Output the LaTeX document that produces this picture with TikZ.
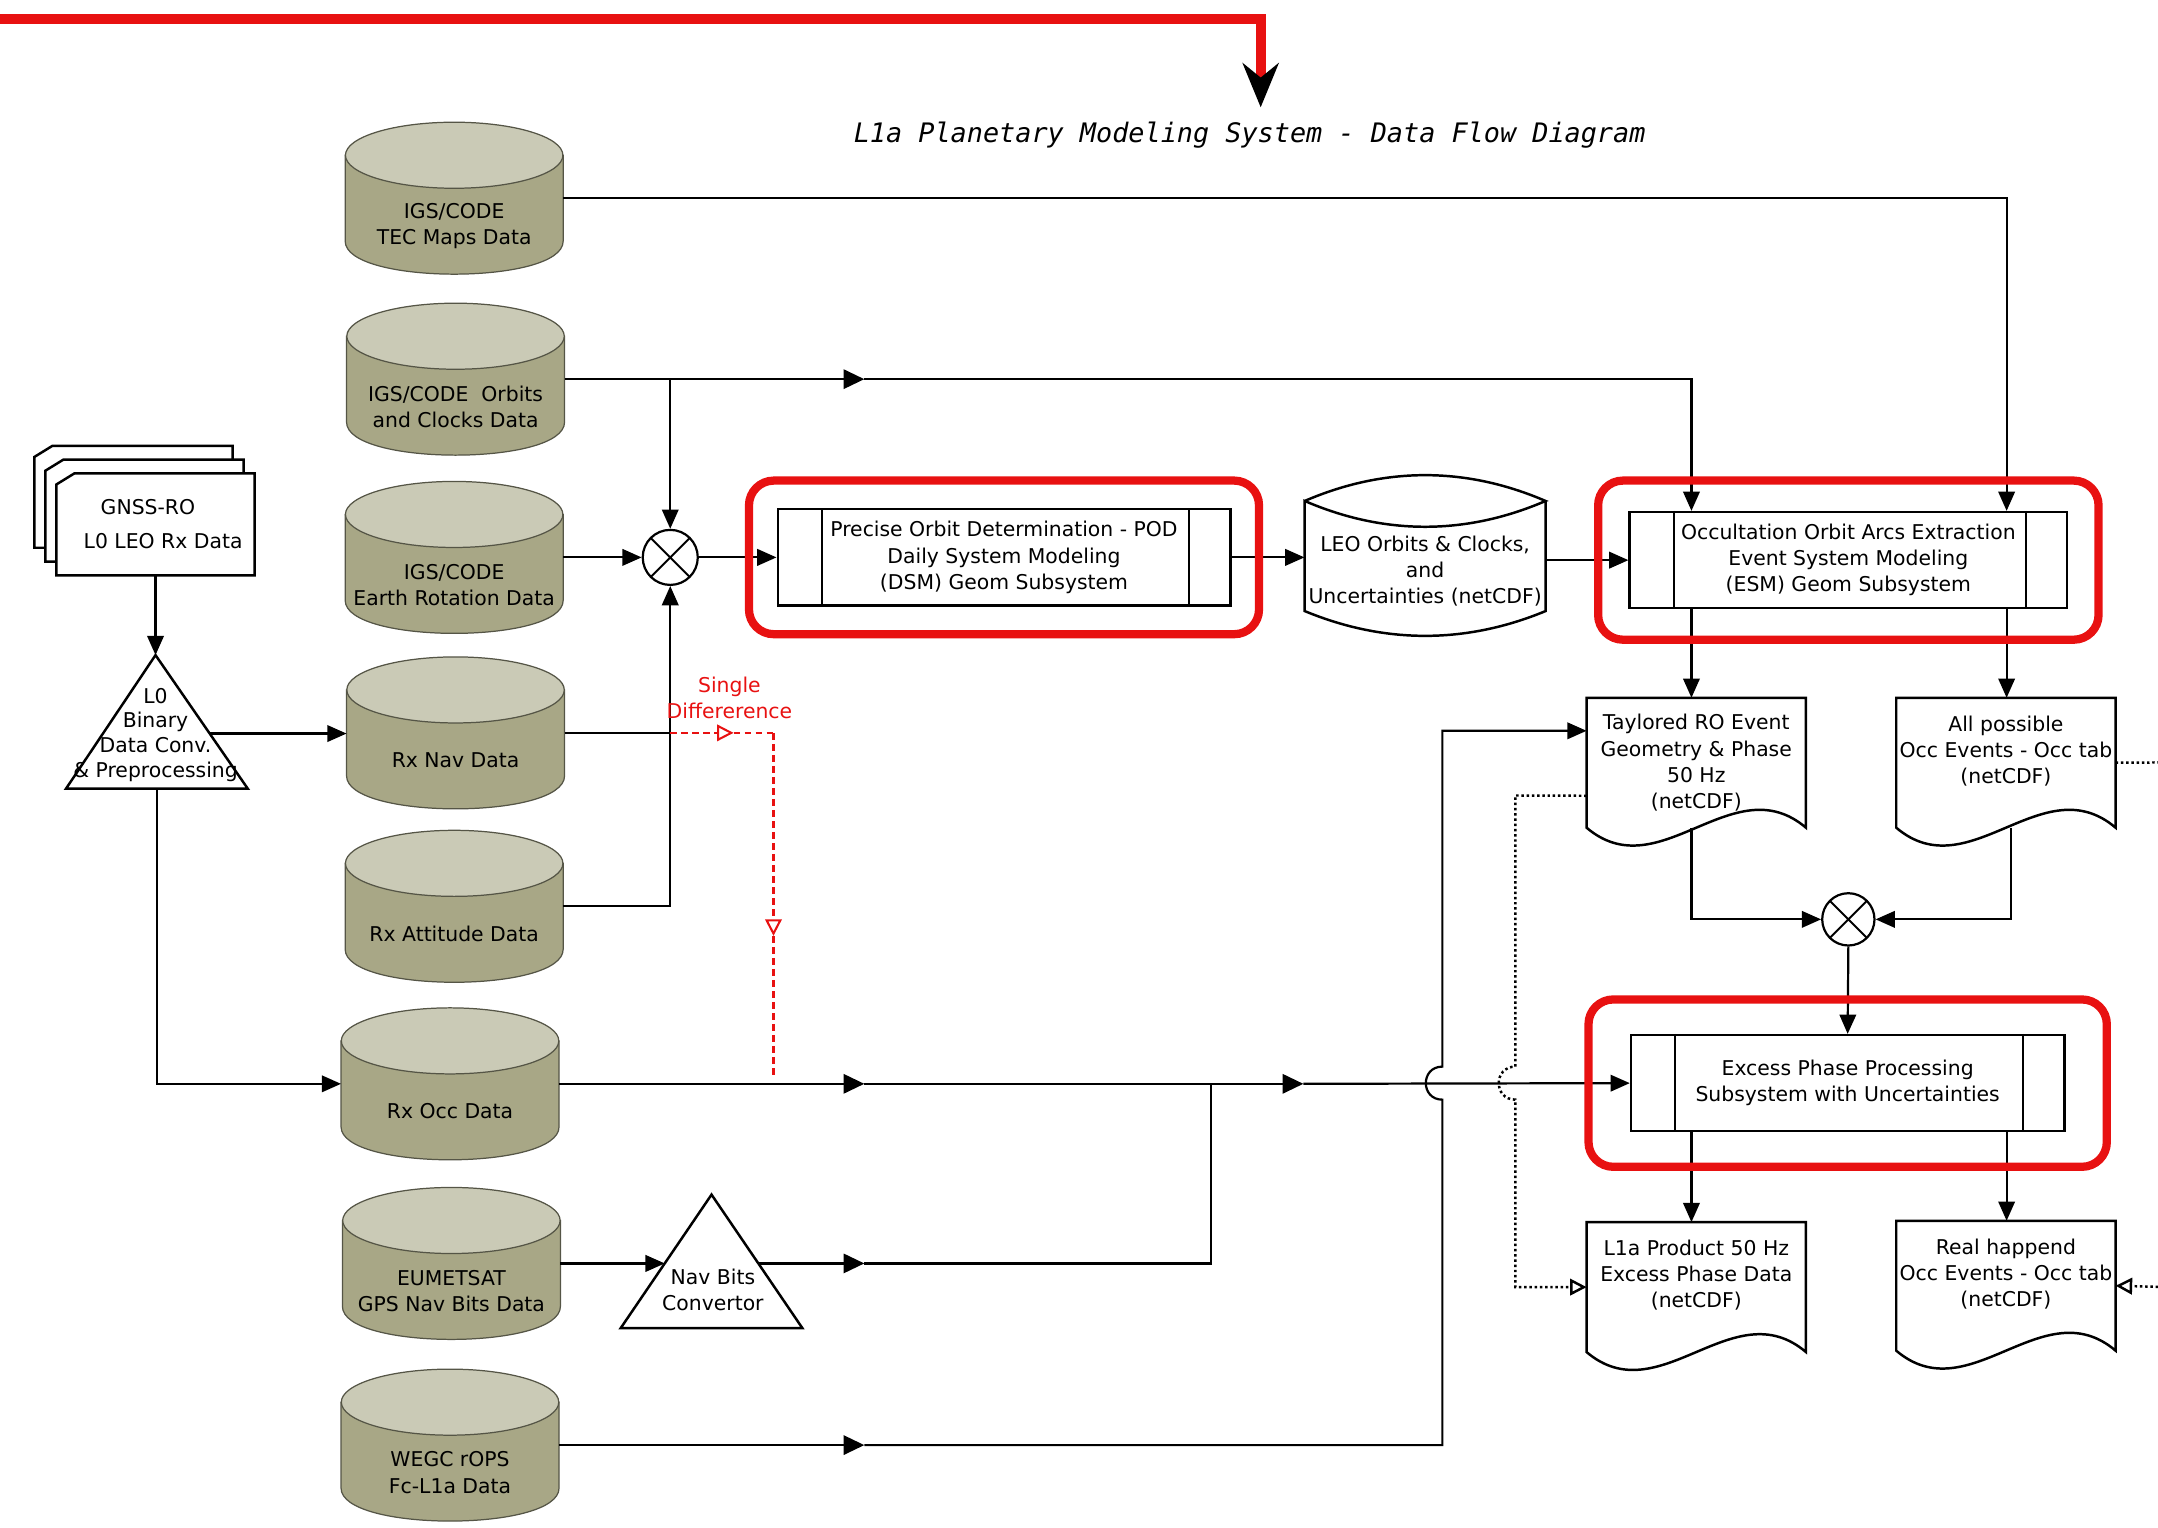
\documentclass[tikz,border=0pt]{standalone}
\usepackage{fontspec}
\setmainfont{DejaVu Sans}
\newfontfamily\titlefont{DejaVu Sans Mono}
\usetikzlibrary{arrows.meta,fit,calc}

\definecolor{framered}{RGB}{232,17,17}
\definecolor{dbtop}{RGB}{202,202,182}
\definecolor{dbbody}{RGB}{168,167,134}
\definecolor{dbline}{RGB}{85,85,70}

\tikzset{
  db/.style={minimum width=158pt, minimum height=110pt, inner sep=0pt},
  dbshape/.style={draw=dbline, line width=0.9pt},
  dbtext/.style={align=center, inner sep=0pt},
  proc/.style={draw, line width=1.6pt, fill=white, minimum width=#1, minimum height=70pt,
    align=center, inner sep=0pt},
  redframe/.style={draw=framered, line width=6pt, rounded corners=18pt},
  doc/.style={anchor=north, minimum width=159pt, minimum height=94pt, align=center, inner sep=0pt},
  docline/.style={line width=1.8pt},
  conn/.style={line width=1.6pt},
  flow/.style={line width=1.6pt, -{Triangle[length=14pt,width=12pt]}},
  midmark/.style={line width=1.6pt, -{Triangle[length=15pt,width=14pt]}},
  dotflow/.style={line width=1.8pt, dotted},
  hollow/.style={-{Triangle[open,length=12pt,width=12pt]}},
  sdline/.style={framered, line width=1.5pt, dash pattern=on 5pt off 3pt},
  sumcircle/.style={circle, draw, line width=1.6pt, minimum size=#1, inner sep=0pt,
    path picture={\draw[line width=1.4pt]
      (path picture bounding box.north west) -- (path picture bounding box.south east)
      (path picture bounding box.north east) -- (path picture bounding box.south west);}},
}

\begin{document}
\begin{tikzpicture}[x=1pt, y=-1pt, font=\fontsize{14.8}{19}\selectfont]
    \useasboundingbox (0,0) rectangle (1568,1110);

    % 1. Title and the red pointer on top
    \node[font=\titlefont\itshape\fontsize{19.5}{24}\selectfont] (titlenode) at (908,98)
        {L1a Planetary Modeling System - Data Flow Diagram};
    \coordinate (redstart) at (0,14);
    \coordinate (redbend) at (916,14);
    \coordinate (redend) at (916,78);
    \draw[framered, line width=7pt, -{Stealth[length=32pt,width=26pt,color=black]}]
        (redstart) -- (redbend) -- (redend);

    % 2. Data stores (cylinders)
    \foreach \n/\x/\y/\txt in {
        tec/330/144/{IGS/CODE\\TEC Maps Data},
        orb/331/275.5/{IGS/CODE~~Orbits\\and Clocks Data},
        ert/330/405/{IGS/CODE\\Earth Rotation Data},
        nav/331/532.5/{Rx Nav Data},
        att/330/658.5/{Rx Attitude Data},
        occ/327/787.5/{Rx Occ Data},
        eum/328/918/{EUMETSAT\\GPS Nav Bits Data},
        wegc/327/1050/{WEGC rOPS\\Fc-L1a Data}} {
        \node[db] (\n) at (\x,\y) {};
        \filldraw[dbshape, fill=dbbody] ([yshift=-24pt]\n.north west) -- ([yshift=24pt]\n.south west)
            .. controls +(0,32) and +(0,32) .. ([yshift=24pt]\n.south east)
            -- ([yshift=-24pt]\n.north east) -- cycle;
        \filldraw[dbshape, fill=dbtop] ([yshift=-24pt]\n.north) ellipse [x radius=79pt, y radius=24pt];
        \node[dbtext] (\n-txt) at ([yshift=-20pt]\n.center) {\txt};
    }

    % 3. GNSS-RO raw data cards
    \foreach \o in {16,8,0} {
        \filldraw[fill=white, line width=1.8pt] (41-\o,418-1.25*\o) -- (41-\o,352-1.25*\o)
            -- (54-\o,344-1.25*\o) -- (185-\o,344-1.25*\o) -- (185-\o,418-1.25*\o) -- cycle;
    }
    \node[minimum width=144pt, minimum height=74pt, align=center, inner sep=0pt] (gnss) at (113,381)
        {GNSS-RO\hspace*{11pt}\\[6pt]\hspace*{11pt}L0 LEO Rx Data};

    % 4. Triangles (L0 conversion, nav bits convertor)
    \coordinate (l0apex) at (113,476);
    \coordinate (l0right) at (152,533);
    \coordinate (l0base) at (114,573);
    \draw[line width=1.8pt] (l0apex) -- (180,573) -- (48,573) -- cycle;
    \node[align=center, inner sep=0pt, font=\fontsize{14.8}{18}\selectfont] (l0) at (113,534)
        {L0\\Binary\\Data Conv.\\\& Preprocessing};

    \coordinate (navleft) at (483,918);
    \coordinate (navright) at (551,918);
    \draw[line width=1.8pt] (517,868) -- (583,965) -- (451,965) -- cycle;
    \node[align=center, inner sep=0pt] (navtxt) at (518,937) {Nav Bits\\Convertor};

    % 5. Summing junctions
    \node[sumcircle=40pt] (mix1) at (487,405) {};
    \node[sumcircle=38pt] (mix2) at (1343,668) {};

    % 6. Processes
    \node[proc=329pt] (dsm) at (729.5,405)
        {Precise Orbit Determination - POD\\Daily System Modeling\\(DSM) Geom Subsystem};
    \node[proc=318pt] (esm) at (1343,407)
        {Occultation Orbit Arcs Extraction\\Event System Modeling\\(ESM) Geom Subsystem};
    \node[proc=315pt] (exc) at (1342.5,787)
        {Excess Phase Processing\\Subsystem with Uncertainties};
    \foreach \p in {dsm,esm,exc} {
        \draw[conn] ([xshift=33pt]\p.north west) -- ([xshift=33pt]\p.south west);
        \draw[conn] ([xshift=-31pt]\p.north east) -- ([xshift=-31pt]\p.south east);
    }

    % 7. LEO orbits store
    \node[align=center, minimum width=175pt, inner sep=0pt] (leo) at (1035.5,415)
        {LEO Orbits \& Clocks,\\and\\Uncertainties (netCDF)};
    \draw[docline] (948,364) .. controls (1006,339) and (1065,339) .. (1123,364)
        .. controls (1065,389) and (1006,389) .. (948,364) -- (948,444)
        .. controls (1006,468) and (1065,468) .. (1123,444) -- (1123,364);

    % 8. Documents
    \node[doc] (tay) at (1232.5,507) {Taylored RO Event\\Geometry \& Phase\\50 Hz\\(netCDF)};
    \node[doc] (allocc) at (1457.5,507) {All possible\\Occ Events - Occ tab\\(netCDF)\\\mbox{}};
    \node[doc] (lpro) at (1232.5,888) {L1a Product 50 Hz\\Excess Phase Data\\(netCDF)\\\mbox{}};
    \node[doc] (realocc) at (1457.5,887) {Real happend\\Occ Events - Occ tab\\(netCDF)\\\mbox{}};
    \foreach \d in {tay,allocc,lpro,realocc} {
        \draw[docline] (\d.south west) .. controls +(53,45) and +(-53,-45) .. (\d.south east)
            -- (\d.north east) -- (\d.north west) -- cycle;
    }

    % 9. Connectors
    \coordinate (colA) at (1229,0);
    \coordinate (colB) at (1458,0);
    \coordinate (orbmark) at (628,275.5);
    \coordinate (occmark1) at (628,787.5);
    \coordinate (occmark2) at (947,787.5);
    \coordinate (navmark) at (628,918);
    \coordinate (navjoin) at (880,787.5);
    \coordinate (wegcmark) at (628,1050);
    \coordinate (hopcol) at (1048,531);

    \draw[flow] (tec.east) -- (tec.east -| colB) -- (colB |- esm.north);
    \draw[midmark] (orb.east) -- (orbmark);
    \draw[flow] (orbmark) -- (orbmark -| colA) -- (colA |- esm.north);
    \draw[flow] (orb.east -| mix1.north) -- (mix1.north);
    \draw[flow] (ert.east) -- (mix1.west);
    \draw[conn] (nav.east) -- (nav.east -| mix1.south);
    \draw[flow] (att.east) -| (mix1.south);
    \draw[flow] (mix1.east) -- (dsm.west);
    \draw[flow] (dsm.east) -- (dsm.east -| leo.west);
    \draw[flow] (esm.west -| leo.east) -- (esm.west);

    \draw[flow] (colA |- esm.south) -- (colA |- tay.north);
    \draw[flow] (colB |- esm.south) -- (colB |- allocc.north);
    \draw[flow] (colA |- tay.south) |- (mix2.west);
    \draw[flow] ([xshift=3.5pt]allocc.south) |- (mix2.east);
    \draw[flow] (mix2.south) -- (exc.north);
    \draw[flow] (colA |- exc.south) -- (colA |- lpro.north);
    \draw[flow] (colB |- exc.south) -- (colB |- realocc.north);

    \draw[flow] (gnss.south) -- (l0apex);
    \draw[flow] (l0right) -- (l0right -| nav.west);
    \draw[flow] (l0base) |- (occ.west);

    \draw[midmark] (occ.east) -- (occmark1);
    \draw[midmark] (occmark1) -- (occmark2);
    \draw[flow] (occmark2) -- (exc.west);

    \draw[flow] (eum.east) -- (navleft);
    \draw[midmark] (navright) -- (navmark);
    \draw[conn] (navmark) -- (navmark -| navjoin) -- (navjoin);

    \draw[midmark] (wegc.east) -- (wegcmark);
    \draw[flow] (wegcmark) -- (wegcmark -| hopcol) -- (1048,799)
        .. controls (1032,799) and (1032,775) .. (1048,775) -- (hopcol) -- (hopcol -| tay.west);

    % 10. Dotted links
    \coordinate (dotturn) at (1101,578);
    \coordinate (edgeA) at (1568,554);
    \coordinate (edgeB) at (1568,935);
    \draw[dotflow, hollow] ([yshift=-24pt]tay.west) -- (dotturn) -- (1101,775)
        .. controls (1085,775) and (1085,799) .. (1101,799) -- (dotturn |- lpro.west) -- (lpro.west);
    \draw[dotflow] (allocc.east) -- (edgeA);
    \draw[dotflow, hollow] (edgeB) -- (realocc.east);

    % 11. Single difference (red)
    \coordinate (sdmark1) at (533,532.5);
    \coordinate (sdturn) at (562,532.5);
    \coordinate (sdmark2) at (562,680);
    \coordinate (sdend) at (562,783);
    \node[text=framered, align=center, inner sep=0pt] (sdlabel) at (530,507) {Single\\Differerence};
    \draw[sdline, hollow] (nav.east -| mix1.south) -- (sdmark1);
    \draw[sdline] (sdmark1) -- (sdturn);
    \draw[sdline, hollow] (sdturn) -- (sdmark2);
    \draw[sdline] (sdmark2) -- (sdend);

    % 12. Red frames round the subsystems
    \node[redframe, inner xsep=20pt, inner ysep=20pt, fit=(dsm)] (dsmframe) {};
    \node[redframe, inner xsep=22pt, inner ysep=22pt, fit=(esm)] (esmframe) {};
    \node[redframe, inner xsep=30pt, inner ysep=25pt, fit=(exc)] (excframe) {};
\end{tikzpicture}
\end{document}
